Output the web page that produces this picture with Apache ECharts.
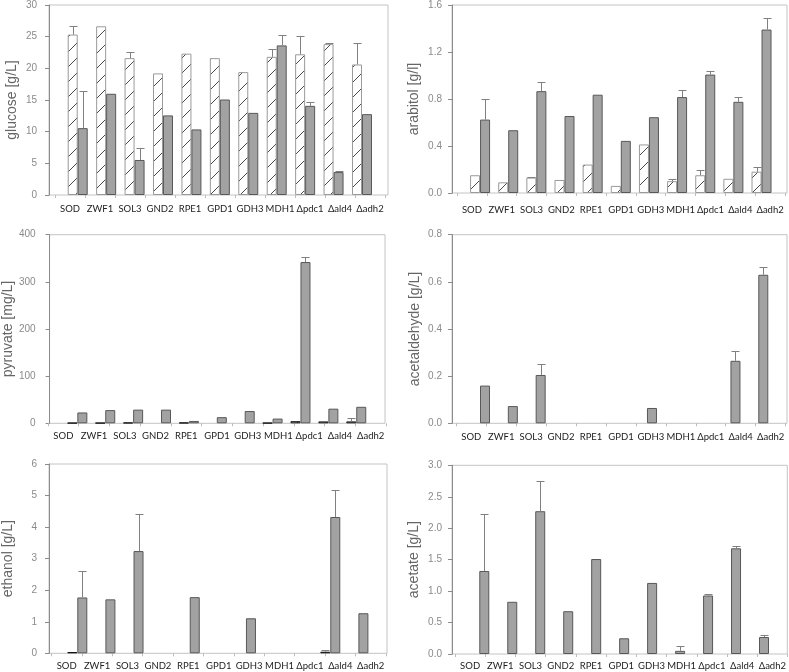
<!DOCTYPE html>
<html><head><meta charset="utf-8">
<script src="https://cdn.jsdelivr.net/npm/echarts@6/dist/echarts.min.js"></script>
<style>html,body{margin:0;padding:0;background:#fff}#c{width:789px;height:672px}</style>
</head><body><div id="c"></div>
<script>
const categories = ['SOD','ZWF1','SOL3','GND2','RPE1','GPD1','GDH3','MDH1','Δpdc1','Δald4','Δadh2'];

// glucose [g/L]
const glucoseHatched    = [25.2, 26.5, 21.5, 19.1, 22.2, 21.5, 19.3, 21.7, 22.1, 23.7, 20.5];
const glucoseHatchedErr = [1.4, null, 1.0, null, null, null, null, 1.3, 2.8, 0.1, 3.3];
const glucoseGray       = [10.5, 15.9, 5.5, 12.5, 10.3, 15.0, 12.9, 23.5, 14.0, 3.6, 12.7];
const glucoseGrayErr    = [5.8, null, 1.9, null, null, null, null, 1.7, 0.6, 0.1, null];

// arabitol [g/l]
const arabitolHatched    = [0.15, 0.09, 0.13, 0.11, 0.24, 0.06, 0.41, 0.10, 0.15, 0.12, 0.18];
const arabitolHatchedErr = [null, null, 0.005, null, null, null, null, 0.02, 0.04, null, 0.04];
const arabitolGray       = [0.62, 0.53, 0.86, 0.65, 0.83, 0.44, 0.64, 0.81, 1.00, 0.77, 1.38];
const arabitolGrayErr    = [0.17, null, 0.08, null, null, null, null, 0.06, 0.03, 0.04, 0.10];

// pyruvate [mg/L]
const pyruvateHatched    = [1, 1, 1.5, 0, 1.5, 0, 0, 1, 4.5, 4, 4];
const pyruvateHatchedErr = [null, null, null, null, null, null, null, null, null, null, 8];
const pyruvateGray       = [23, 28, 29, 29, 5, 13, 26, 10, 342, 31, 35];
const pyruvateGrayErr    = [null, null, null, null, null, null, null, null, 10, null, null];

// acetaldehyde [g/L]
const acetaldehydeHatched    = [0, 0, 0, 0, 0, 0, 0, 0, 0, 0, 0];
const acetaldehydeHatchedErr = [null, null, null, null, null, null, null, null, null, null, null];
const acetaldehydeGray       = [0.16, 0.073, 0.205, 0, 0, 0, 0.065, 0, 0, 0.265, 0.63];
const acetaldehydeGrayErr    = [null, null, 0.048, null, null, null, null, null, null, 0.042, 0.033];

// ethanol [g/L]
const ethanolHatched    = [0.04, 0, 0, 0, 0, 0, 0, 0, 0, 0.05, 0];
const ethanolHatchedErr = [null, null, null, null, null, null, null, null, null, 0.06, null];
const ethanolGray       = [1.77, 1.71, 3.24, 0, 1.78, 0, 1.11, 0, 0, 4.32, 1.27];
const ethanolGrayErr    = [0.83, null, 1.18, null, null, null, null, null, null, 0.85, null];

// acetate [g/L]
const acetateHatched    = [0, 0, 0, 0, 0, 0, 0, 0, 0, 0, 0];
const acetateHatchedErr = [null, null, null, null, null, null, null, null, null, null, null];
const acetateGray       = [1.32, 0.83, 2.27, 0.68, 1.51, 0.25, 1.13, 0.05, 0.93, 1.68, 0.27];
const acetateGrayErr    = [0.91, null, 0.48, null, null, null, null, 0.08, 0.03, 0.03, 0.04];

// y axis ticks
const glucoseTicks = {max: 30, interval: 5, decimals: 0};
const arabitolTicks = {max: 1.6, interval: 0.4, decimals: 1};
const pyruvateTicks = {max: 400, interval: 100, decimals: 0};
const acetaldehydeTicks = {max: 0.8, interval: 0.2, decimals: 1};
const ethanolTicks = {max: 6, interval: 1, decimals: 0};
const acetateTicks = {max: 3.0, interval: 0.5, decimals: 1};

const panels = [
  {name:'glucose [g/L]', ticks:glucoseTicks, h:glucoseHatched, he:glucoseHatchedErr, g:glucoseGray, ge:glucoseGrayErr,
   frame:{left:49, top:4, width:339, height:191}, bars:{left:63.5, width:312.7}, labels:{left:55, width:330},
   labelMargin:9, nameGap:30, tickMargin:12, hatchBorder:'#9a9a9a'},
  {name:'arabitol [g/l]', ticks:arabitolTicks, h:arabitolHatched, he:arabitolHatchedErr, g:arabitolGray, ge:arabitolGrayErr,
   frame:{left:452, top:3.5, width:335, height:189.5}, bars:{left:466, width:309.6}, labels:{left:457, width:328},
   labelMargin:12, nameGap:31, tickMargin:10, hatchBorder:'#9a9a9a'},
  {name:'pyruvate [mg/L]', ticks:pyruvateTicks, h:pyruvateHatched, he:pyruvateHatchedErr, g:pyruvateGray, ge:pyruvateGrayErr,
   frame:{left:49, top:234.7, width:336, height:188.6}, bars:{left:63.4, width:306.8}, labels:{left:48, width:338},
   labelMargin:8, nameGap:34, tickMargin:14, hatchBorder:'#111'},
  {name:'acetaldehyde [g/L]', ticks:acetaldehydeTicks, h:acetaldehydeHatched, he:acetaldehydeHatchedErr, g:acetaldehydeGray, ge:acetaldehydeGrayErr,
   frame:{left:452, top:234.7, width:335, height:188.6}, bars:{left:466.1, width:306.1}, labels:{left:456.3, width:329.3},
   labelMargin:9, nameGap:30, tickMargin:10, hatchBorder:'#111'},
  {name:'ethanol [g/L]', ticks:ethanolTicks, h:ethanolHatched, he:ethanolHatchedErr, g:ethanolGray, ge:ethanolGrayErr,
   frame:{left:49, top:464, width:338, height:189.3}, bars:{left:63.25, width:309.2}, labels:{left:51.5, width:334.4},
   labelMargin:8, nameGap:34, tickMargin:12, hatchBorder:'#111'},
  {name:'acetate [g/L]', ticks:acetateTicks, h:acetateHatched, he:acetateHatchedErr, g:acetateGray, ge:acetateGrayErr,
   frame:{left:452, top:465.3, width:335.3, height:188.7}, bars:{left:465.3, width:307.7}, labels:{left:455, width:332.5},
   labelMargin:7, nameGap:31, tickMargin:10, hatchBorder:'#9a9a9a'}
];

// choose a narrow font for the category labels if one is installed
function fontAvailable(name) {
  const c = document.createElement('canvas').getContext('2d');
  const s = 'SOD ZWF1 Δpdc1 MDH1';
  c.font = '20px monospace'; const a = c.measureText(s).width;
  c.font = '20px "' + name + '", monospace'; const b = c.measureText(s).width;
  return Math.abs(a - b) > 0.5;
}
let catFont = 'Lato', catSize = 9.5;
if (fontAvailable('Liberation Sans Narrow')) { catFont = 'Liberation Sans Narrow'; catSize = 10.5; }

function makeHatch() {
  const s = 15;
  const cv = document.createElement('canvas');
  cv.width = s; cv.height = s;
  const c = cv.getContext('2d');
  c.fillStyle = '#ffffff'; c.fillRect(0, 0, s, s);
  c.strokeStyle = '#4a4a4a'; c.lineWidth = 1;
  c.beginPath();
  c.moveTo(0, s); c.lineTo(s, 0);
  c.moveTo(-2, 2); c.lineTo(2, -2);
  c.moveTo(s - 2, s + 2); c.lineTo(s + 2, s - 2);
  c.stroke();
  return cv;
}
const hatch = makeHatch();

function errRender(offset) {
  return function (params, api) {
    const i = api.value(0), v = api.value(1), t = api.value(2);
    const p0 = api.coord([i, v]);
    const p1 = api.coord([i, t]);
    const x = Math.round(p0[0] + offset) + 0.5;
    const yT = Math.round(p1[1]) + 0.5;
    const st = {stroke: '#808080', lineWidth: 1};
    return {type: 'group', children: [
      {type: 'line', shape: {x1: x, y1: p0[1], x2: x, y2: yT}, style: st},
      {type: 'line', shape: {x1: x - 4, y1: yT, x2: x + 4, y2: yT}, style: st}
    ]};
  };
}

function errData(vals, errs) {
  const out = [];
  vals.forEach((v, i) => { if (errs[i] != null) out.push([i, v, v + errs[i]]); });
  return out;
}
// zero-valued bars get no outline so they stay invisible
function barData(vals) {
  return vals.map(v => v === 0 ? {value: v, itemStyle: {borderWidth: 0}} : v);
}

const grid = [], xAxis = [], yAxis = [], series = [];
panels.forEach((p, k) => {
  const fi = 3 * k, bi = 3 * k + 1, li = 3 * k + 2;
  const f = p.frame;
  grid.push({left: f.left, top: f.top, width: f.width, height: f.height, show: true,
             borderColor: '#c4c4c4', borderWidth: 1, containLabel: false});
  grid.push({left: p.bars.left, top: f.top, width: p.bars.width, height: f.height, containLabel: false});
  grid.push({left: p.labels.left, top: f.top, width: p.labels.width, height: f.height, containLabel: false});

  xAxis.push({gridIndex: fi, type: 'category', data: categories, show: false});
  xAxis.push({gridIndex: bi, type: 'category', data: categories, show: false});
  xAxis.push({gridIndex: li, type: 'category', data: categories,
    axisLine: {show: false},
    axisTick: {show: true, length: 3, lineStyle: {color: '#bdbdbd'}},
    axisLabel: {interval: 0, margin: p.labelMargin, fontSize: catSize, fontFamily: catFont, color: '#222'}
  });

  const dec = p.ticks.decimals;
  yAxis.push({gridIndex: fi, type: 'value', min: 0, max: p.ticks.max, interval: p.ticks.interval,
    axisLine: {show: true, lineStyle: {color: '#8c8c8c'}},
    axisTick: {show: true, length: 4, lineStyle: {color: '#8c8c8c'}},
    splitLine: {show: false},
    axisLabel: {margin: p.tickMargin, fontSize: 10, fontFamily: 'Liberation Sans', color: '#8a8a8a',
                formatter: v => v.toFixed(dec)},
    name: p.name, nameLocation: 'middle', nameGap: p.nameGap,
    nameTextStyle: {fontSize: 14, fontFamily: 'Liberation Sans', color: '#666'}
  });
  yAxis.push({gridIndex: bi, type: 'value', min: 0, max: p.ticks.max, interval: p.ticks.interval, show: false});
  yAxis.push({gridIndex: li, type: 'value', min: 0, max: 1, show: false});

  series.push({type: 'bar', xAxisIndex: bi, yAxisIndex: bi, data: barData(p.h), barWidth: 10, barGap: '0%',
    itemStyle: {color: {image: hatch, repeat: 'repeat'}, borderColor: p.hatchBorder, borderWidth: 1}, z: 3});
  series.push({type: 'bar', xAxisIndex: bi, yAxisIndex: bi, data: barData(p.g), barWidth: 10, barGap: '0%',
    itemStyle: {color: '#a2a2a2', borderColor: '#585858', borderWidth: 1}, z: 3});
  series.push({type: 'custom', xAxisIndex: bi, yAxisIndex: bi, renderItem: errRender(-5),
    data: errData(p.h, p.he), encode: {x: 0, y: [1, 2]}, z: 4});
  series.push({type: 'custom', xAxisIndex: bi, yAxisIndex: bi, renderItem: errRender(5),
    data: errData(p.g, p.ge), encode: {x: 0, y: [1, 2]}, z: 4});
});

const chart = echarts.init(document.getElementById('c'));
chart.setOption({animation: false, backgroundColor: '#fff', grid, xAxis, yAxis, series});
</script></body></html>
